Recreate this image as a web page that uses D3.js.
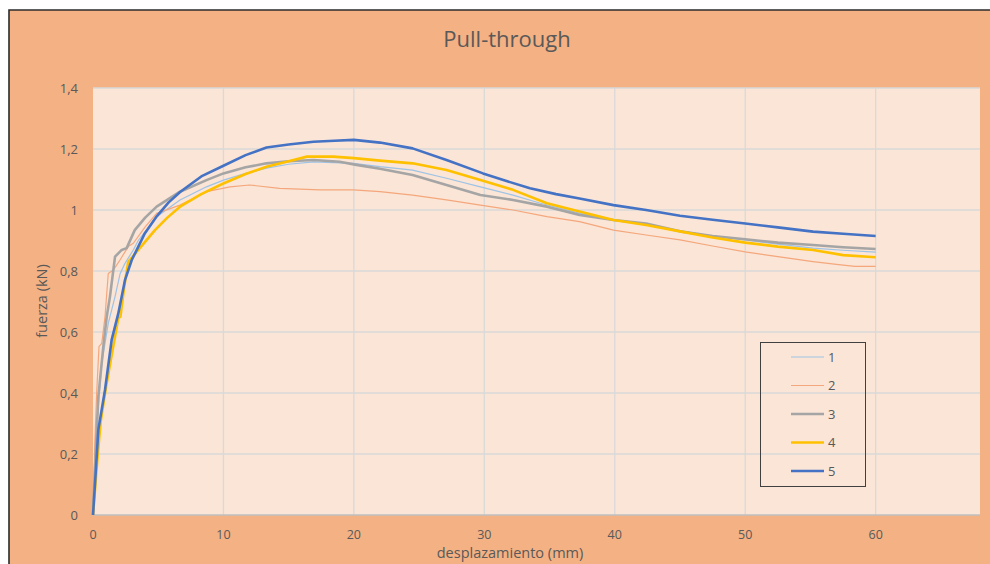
<!DOCTYPE html>
<html>
<head>
<meta charset="utf-8">
<script src="https://cdn.jsdelivr.net/npm/d3@7"></script>
<style>
  body { margin: 0; background: #ffffff; }
  text { font-family: "Open Sans", sans-serif; fill: #595959; }
</style>
</head>
<body>
<div id="chart"></div>
<script>
// pull-through test, force vs displacement

var xTicks = [0, 10, 20, 30, 40, 50, 60];
var yTicks = [0, 0.2, 0.4, 0.6, 0.8, 1, 1.2, 1.4];
var seriesNames = ["1", "2", "3", "4", "5"];
var seriesColors = ["#9dc3e6", "#f4a77c", "#a5a5a5", "#ffc000", "#4472c4"];
var seriesWidths = [1.2, 1.2, 2.6, 2.6, 2.6];

var s1 = [[0,0],[0.3,0.3],[0.67,0.497],[1.17,0.628],[1.69,0.716],[2.07,0.79],[2.45,0.825],[3.09,0.869],[3.47,0.9],[4.88,0.978],[6.67,1.033],[8.7,1.076],[10,1.098],[11.7,1.12],[13.3,1.137],[15,1.15],[16.9,1.158],[19.95,1.153],[22,1.142],[24.5,1.131],[27.1,1.104],[29.7,1.076],[32.2,1.049],[34.3,1.022],[37.3,0.99],[39.9,0.967],[42.4,0.952],[45,0.93],[47.5,0.915],[50,0.902],[52.5,0.888],[55.2,0.875],[57.5,0.868],[60,0.862]];

var s2 = [[0,0],[0.15,0.25],[0.28,0.399],[0.46,0.552],[0.67,0.563],[0.92,0.65],[1.17,0.792],[1.56,0.803],[2.07,0.836],[2.7,0.88],[3.09,0.891],[4,0.945],[4.88,0.989],[6.67,1.016],[8.7,1.06],[10.5,1.076],[12,1.082],[14.3,1.071],[17.4,1.066],[19.95,1.066],[22,1.06],[24.5,1.049],[27.1,1.033],[29.7,1.016],[32.2,1.0],[34.8,0.978],[37.3,0.962],[39.9,0.934],[42.4,0.918],[45,0.902],[47.5,0.882],[50,0.863],[52.5,0.847],[55.2,0.831],[57,0.822],[58.4,0.815],[60,0.815]];

var s3 = [[0,0],[0.2,0.2],[0.41,0.388],[0.79,0.552],[1.05,0.65],[1.3,0.716],[1.69,0.847],[2.2,0.869],[2.58,0.875],[3.2,0.934],[4,0.975],[4.88,1.011],[6.67,1.06],[8.7,1.098],[10,1.12],[11.7,1.14],[13.3,1.153],[15,1.16],[16.9,1.164],[18.9,1.158],[20.2,1.148],[22,1.135],[24.5,1.115],[27.1,1.082],[29.7,1.049],[32.2,1.033],[34.8,1.011],[37.3,0.984],[39.9,0.967],[42.4,0.956],[45,0.93],[47.5,0.915],[50,0.904],[52.5,0.893],[55.2,0.885],[57.5,0.878],[60,0.872]];

var s4 = [[0,0],[0.37,0.2],[0.6,0.31],[1,0.42],[1.5,0.54],[1.94,0.645],[2.1,0.65],[2.4,0.75],[2.7,0.83],[3.47,0.869],[4.75,0.934],[5.7,0.975],[6.67,1.011],[8.3,1.052],[9.99,1.087],[11.7,1.118],[13.3,1.142],[15,1.16],[16.4,1.175],[18.4,1.175],[20,1.17],[22,1.162],[24.5,1.153],[27.1,1.131],[29.7,1.098],[32.2,1.066],[34.8,1.022],[37.3,0.995],[39.9,0.967],[42.4,0.951],[45,0.93],[47.5,0.91],[50,0.893],[52.5,0.88],[55.2,0.869],[57.5,0.852],[60,0.845]];

var s5 = [[0,0],[0.15,0.1],[0.41,0.28],[0.92,0.41],[1.43,0.574],[1.94,0.661],[2.45,0.77],[2.97,0.836],[3.98,0.924],[4.9,0.98],[5.8,1.025],[6.7,1.06],[8.3,1.11],[10,1.145],[11.7,1.18],[13.3,1.205],[15,1.215],[16.9,1.224],[18.5,1.227],[20,1.23],[22,1.221],[24.5,1.202],[27.1,1.164],[29.9,1.12],[31.7,1.095],[33.5,1.071],[35.5,1.052],[37.3,1.038],[39.9,1.016],[42.4,1.0],[45,0.981],[47.5,0.968],[50,0.956],[52.5,0.943],[55.2,0.929],[57.5,0.922],[60,0.915]];

var allSeries = [s1, s2, s3, s4, s5];

var width = 990, height = 564;
var plot = {left: 93, right: 980, top: 88, bottom: 515};

var svg = d3.select("#chart").append("svg")
    .attr("width", width)
    .attr("height", height);

// chart area with the dark frame on top and left
svg.append("rect")
    .attr("x", 9).attr("y", 10)
    .attr("width", width - 9).attr("height", height - 10)
    .attr("fill", "#f4b183");
svg.append("path")
    .attr("d", "M9," + height + "V10H" + width)
    .attr("fill", "none")
    .attr("stroke", "#2b2b2b")
    .attr("stroke-width", 1.6);

var x = d3.scaleLinear().domain([0, 68]).range([plot.left, plot.right]);
var y = d3.scaleLinear().domain([0, 1.4]).range([plot.bottom, plot.top]);

svg.append("rect")
    .attr("x", plot.left).attr("y", plot.top)
    .attr("width", plot.right - plot.left)
    .attr("height", plot.bottom - plot.top)
    .attr("fill", "#fbe5d6");

// gridlines
svg.append("g").selectAll("line")
    .data(yTicks.filter(function(d) { return d > 0; }))
    .enter().append("line")
    .attr("x1", plot.left).attr("x2", plot.right)
    .attr("y1", function(d) { return y(d); })
    .attr("y2", function(d) { return y(d); })
    .attr("stroke", "#d9d9d9")
    .attr("stroke-width", 1.3);

svg.append("g").selectAll("line")
    .data(xTicks.filter(function(d) { return d > 0; }))
    .enter().append("line")
    .attr("x1", function(d) { return x(d); })
    .attr("x2", function(d) { return x(d); })
    .attr("y1", plot.top).attr("y2", plot.bottom)
    .attr("stroke", "#d9d9d9")
    .attr("stroke-width", 1.3);

// x axis line
svg.append("line")
    .attr("x1", plot.left).attr("x2", plot.right)
    .attr("y1", y(0)).attr("y2", y(0))
    .attr("stroke", "#bfbfbf")
    .attr("stroke-width", 1.6);

// tick labels
svg.append("g").selectAll("text")
    .data(yTicks)
    .enter().append("text")
    .attr("x", 78)
    .attr("y", function(d) { return y(d); })
    .attr("dy", "0.35em")
    .attr("text-anchor", "end")
    .style("font-size", "13px")
    .text(function(d) { return String(d).replace(".", ","); });

svg.append("g").selectAll("text")
    .data(xTicks)
    .enter().append("text")
    .attr("x", function(d) { return x(d); })
    .attr("y", 539)
    .attr("text-anchor", "middle")
    .style("font-size", "12.5px")
    .text(function(d) { return d; });

// titles
svg.append("text")
    .attr("x", 507).attr("y", 47)
    .attr("text-anchor", "middle")
    .style("font-size", "22px")
    .text("Pull-through");

svg.append("text")
    .attr("x", 510).attr("y", 558)
    .attr("text-anchor", "middle")
    .style("font-size", "14.5px")
    .text("desplazamiento (mm)");

svg.append("text")
    .attr("transform", "translate(47,301) rotate(-90)")
    .attr("text-anchor", "middle")
    .style("font-size", "14.5px")
    .text("fuerza (kN)");

// series
var line = d3.line()
    .x(function(d) { return x(d[0]); })
    .y(function(d) { return y(d[1]); });

svg.append("g").selectAll("path")
    .data(allSeries)
    .enter().append("path")
    .attr("d", line)
    .attr("fill", "none")
    .attr("stroke", function(d, i) { return seriesColors[i]; })
    .attr("stroke-width", function(d, i) { return seriesWidths[i]; })
    .attr("stroke-linejoin", "round");

// legend
var legend = svg.append("g");
legend.append("rect")
    .attr("x", 760.5).attr("y", 342.5)
    .attr("width", 105).attr("height", 144)
    .attr("fill", "none")
    .attr("stroke", "#404040")
    .attr("stroke-width", 1);

var items = legend.selectAll("g.item")
    .data(seriesNames)
    .enter().append("g")
    .attr("class", "item")
    .attr("transform", function(d, i) { return "translate(0," + (357 + i * 28.5) + ")"; });

items.append("line")
    .attr("x1", 791).attr("x2", 824)
    .attr("y1", 0).attr("y2", 0)
    .attr("stroke", function(d, i) { return seriesColors[i]; })
    .attr("stroke-width", function(d, i) { return seriesWidths[i]; });

items.append("text")
    .attr("x", 828)
    .attr("y", 0)
    .attr("dy", "0.35em")
    .style("font-size", "13px")
    .text(function(d) { return d; });
</script>
</body>
</html>
